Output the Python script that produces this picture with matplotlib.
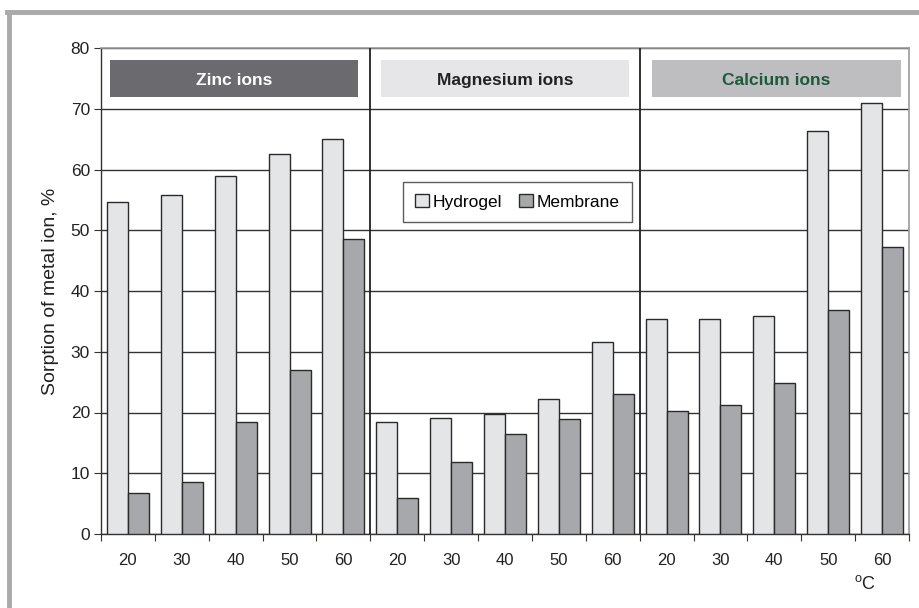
import matplotlib
matplotlib.use("Agg")
import matplotlib.pyplot as plt
import numpy as np
from matplotlib.lines import Line2D
from matplotlib.patches import Rectangle

temps = ["20", "30", "40", "50", "60"]
groups = ["Zinc ions", "Magnesium ions", "Calcium ions"]
hydrogel = [54.7, 55.8, 59.0, 62.6, 65.1,
            18.4, 19.1, 19.8, 22.3, 31.6,
            35.4, 35.4, 35.9, 66.3, 71.0]
membrane = [6.8, 8.5, 18.4, 27.0, 48.5,
            6.0, 11.8, 16.5, 19.0, 23.1,
            20.2, 21.3, 24.8, 36.8, 47.2]
tick_labels = temps * 3

plt.rcParams['font.family'] = ['Liberation Sans', 'DejaVu Sans']

fig = plt.figure(figsize=(9.19, 6.08), dpi=100)
W, H = 919, 608
ax = fig.add_axes([101 / W, 1 - 534 / H, (909 - 101) / W, (534 - 48) / H])

n = len(hydrogel)
x = np.arange(n)
bw = 0.39
edge = '#2a2a2a'
ax.bar(x - bw / 2, hydrogel, bw, color='#e4e5e7', edgecolor=edge, linewidth=1.0, zorder=3, label='Hydrogel')
ax.bar(x + bw / 2, membrane, bw, color='#a7a8ab', edgecolor=edge, linewidth=1.0, zorder=3, label='Membrane')

ax.set_xlim(-0.5, n - 0.5)
ax.set_ylim(0, 80)
ax.set_yticks(np.arange(0, 81, 10))
ax.yaxis.grid(True, color='#333333', linewidth=1.0, zorder=0)
ax.set_axisbelow(True)

ax.set_xticks(np.arange(-0.5, n, 1.0))
ax.set_xticklabels([])
ax.set_xticks(x, minor=True)
ax.set_xticklabels(tick_labels, minor=True)
ax.tick_params(axis='x', which='major', length=5, width=0.8, color='#333333', direction='out')
ax.tick_params(axis='x', which='minor', length=0, labelsize=12, pad=14, labelcolor='#222222')
ax.tick_params(axis='y', length=5, width=0.8, color='#333333', labelsize=12.5, labelcolor='#222222', pad=3)

for s in ['top', 'right']:
    ax.spines[s].set_color('#999999')
    ax.spines[s].set_linewidth(1.2)
for s in ['left', 'bottom']:
    ax.spines[s].set_color('#333333')
    ax.spines[s].set_linewidth(1.0)

for b in [4.5, 9.5]:
    ax.axvline(b, color='#222222', linewidth=1.3, zorder=4)

ax.set_ylabel("Sorption of metal ion, %", fontsize=14, color='#222222', labelpad=8)

box_colors = ['#6b6b6f', '#e6e6e8', '#bebec1']
text_colors = ['#ffffff', '#222222', '#1d5a3a']
box_x = [(-0.33, 4.27), (4.7, 9.3), (9.72, 14.35)]
for (x0, x1), g, bc, tc in zip(box_x, groups, box_colors, text_colors):
    ax.add_patch(Rectangle((x0, 72.0), x1 - x0, 6.0, facecolor=bc, edgecolor='none', zorder=5))
    ax.text((x0 + x1) / 2, 74.6, g, ha='center', va='center', fontsize=12.5, fontweight='bold', color=tc, zorder=6)

leg = ax.legend(loc='upper left', bbox_to_anchor=((403 - 101) / 808, (534 - 182) / 486),
                ncol=2, frameon=True, fancybox=False, fontsize=12.5, handlelength=0.8, handleheight=0.8,
                handletextpad=0.2, columnspacing=1.0, borderpad=0.7, borderaxespad=0)
leg.get_frame().set_edgecolor('#333333')
leg.get_frame().set_linewidth(1.0)
leg.set_zorder(7)

fig.text(865 / W, 1 - 584 / H, "$^{\\mathregular{o}}$C", ha='center', va='center', fontsize=13, color='#222222')

# figure border
fig.add_artist(Line2D([7 / W, 1], [1 - 12 / H, 1 - 12 / H], transform=fig.transFigure, color='#aaaaad', linewidth=3.5))
fig.add_artist(Line2D([9 / W, 9 / W], [0, 1 - 12 / H], transform=fig.transFigure, color='#aaaaad', linewidth=3.5))

fig.savefig("out.png", dpi=100)
